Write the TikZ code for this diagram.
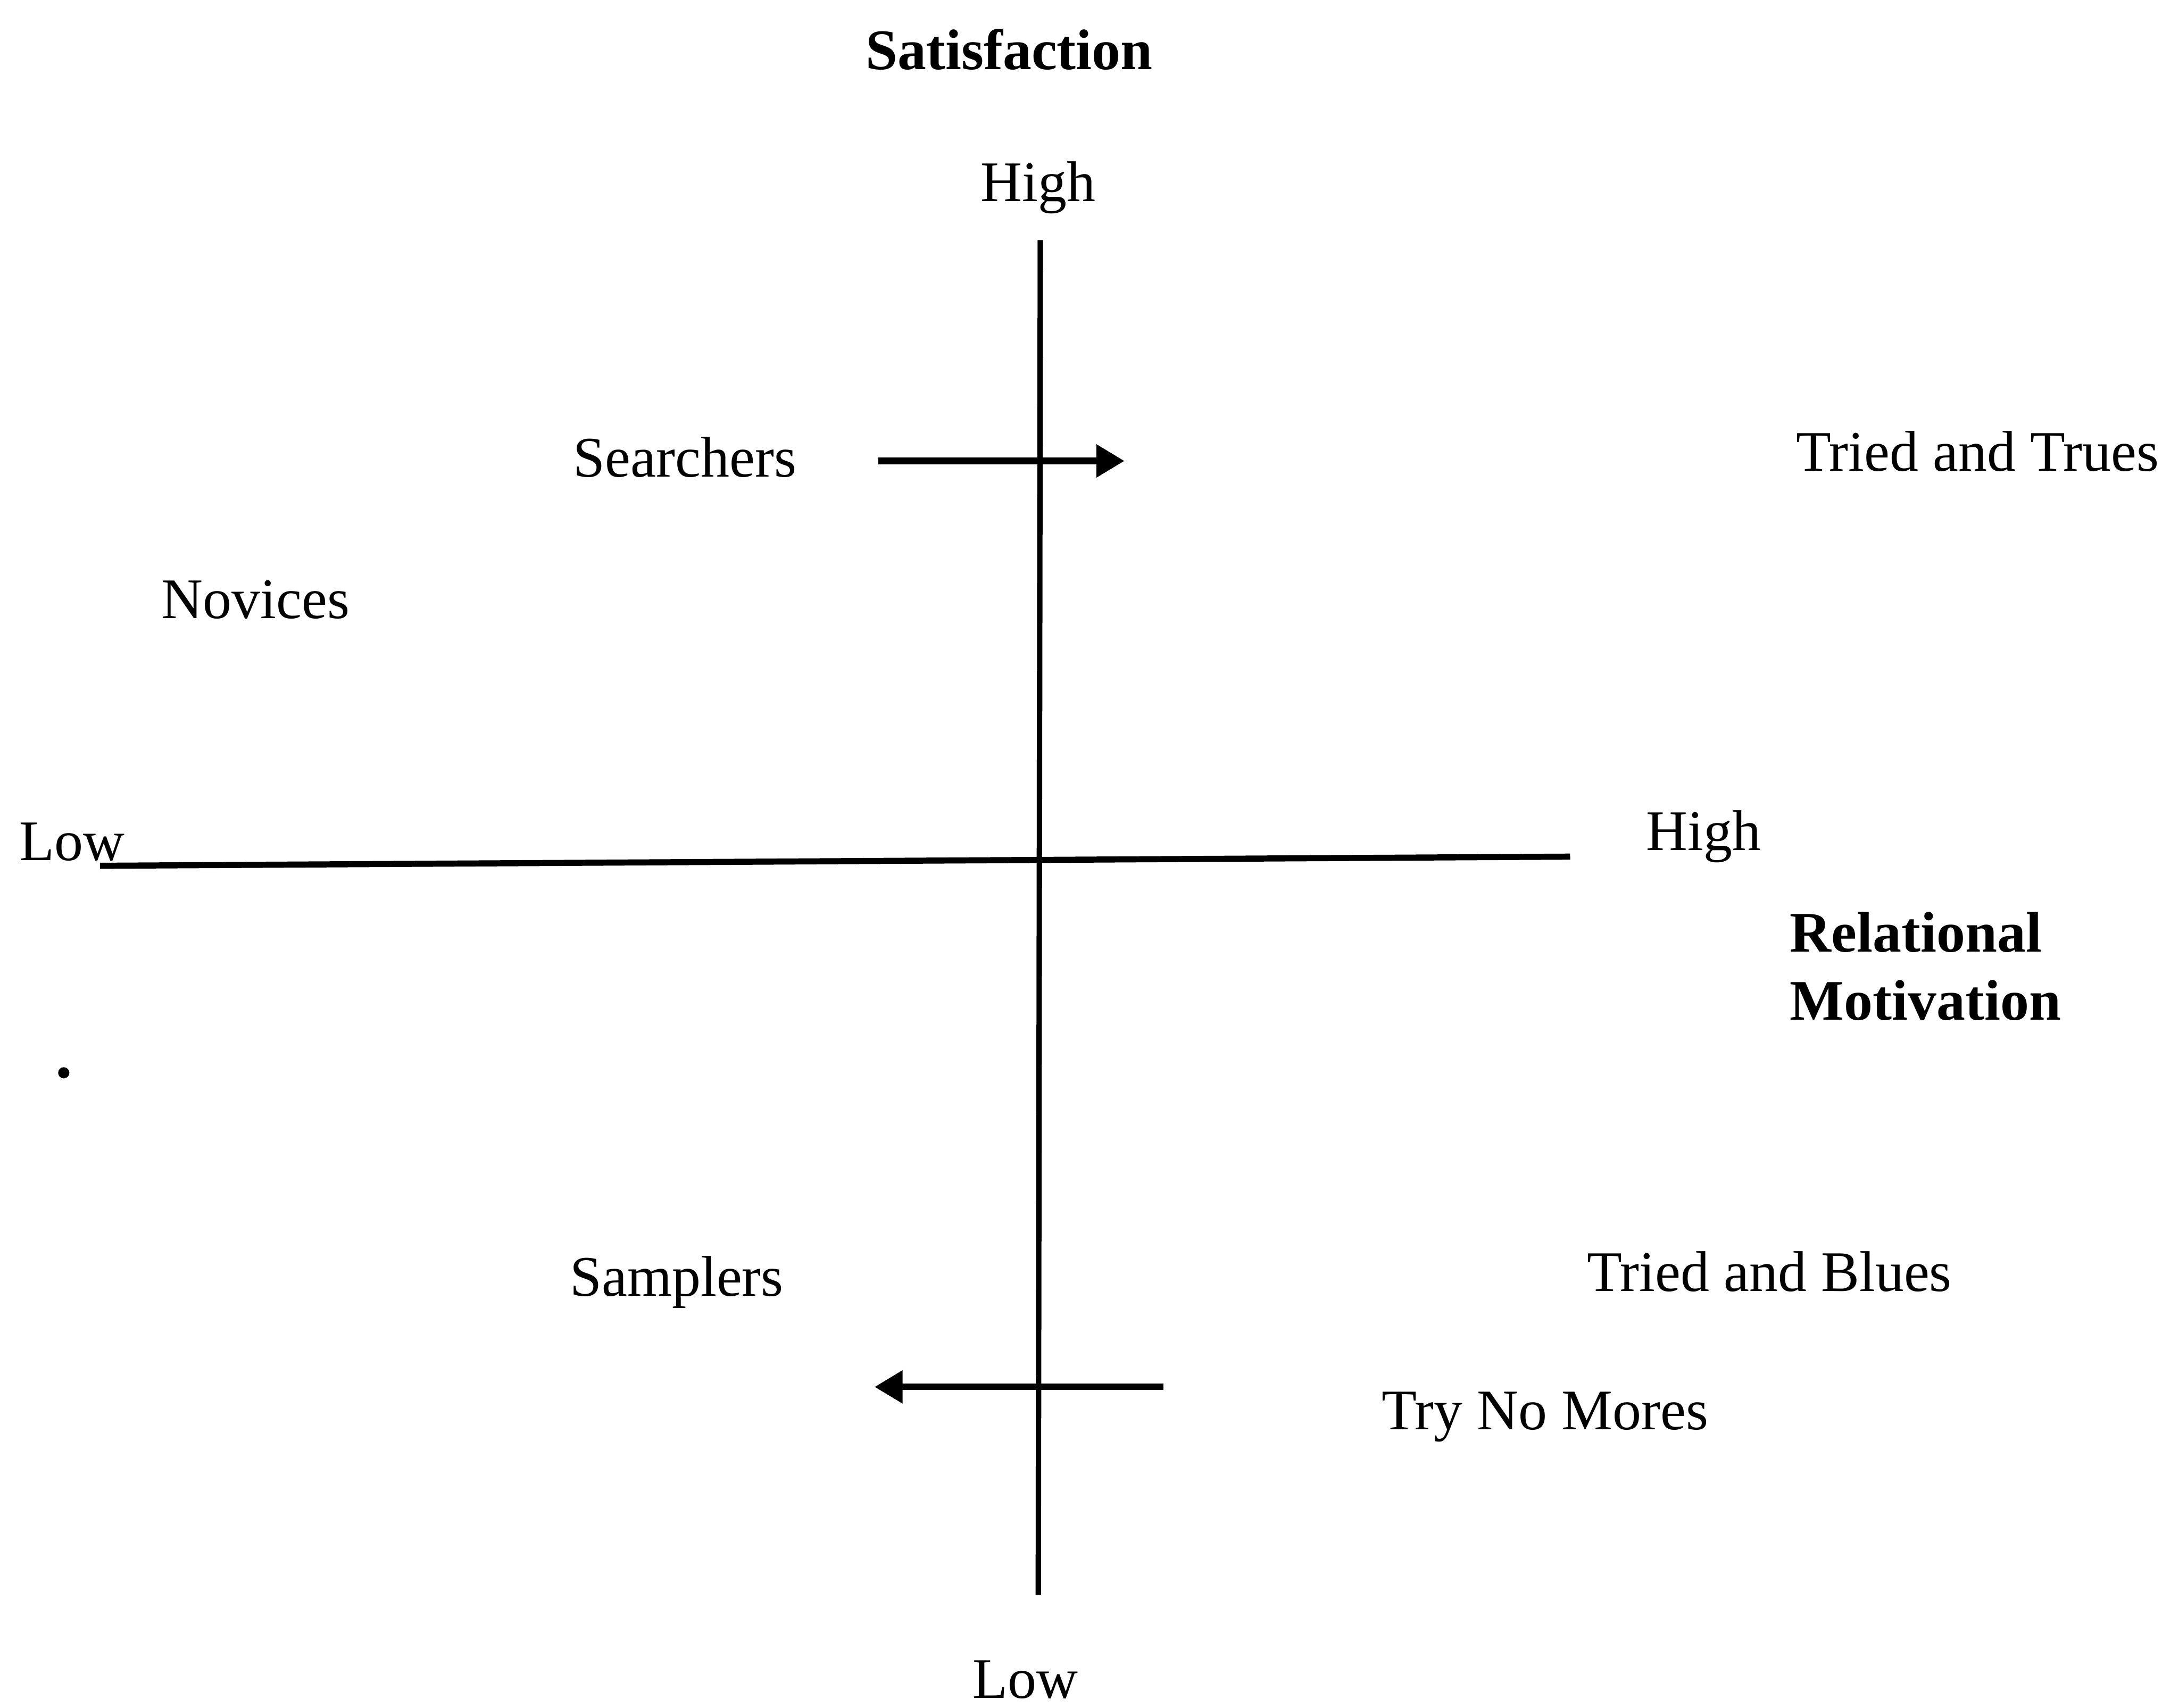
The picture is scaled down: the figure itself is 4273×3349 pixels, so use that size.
\documentclass[tikz,border=0pt]{standalone}
\usepackage{fontspec}
\setmainfont{Liberation Serif}
\usetikzlibrary{arrows.meta}
\begin{document}
\begin{tikzpicture}[x=0.01cm, y=-0.01cm,
  lbl/.style={inner sep=0pt, outer sep=0pt, anchor=base, font=\fontsize{32}{38}\selectfont},
  ttl/.style={lbl, font=\fontsize{32}{38}\selectfont\bfseries},
  axisline/.style={line width=3pt, line cap=butt},
  moveline/.style={line width=3.6pt, -{Triangle[length=0.55cm, width=0.62cm]}}]
  \useasboundingbox (0,0) rectangle (4273,3349);

  % axes
  \coordinate (vtop) at (2040,471);
  \coordinate (vbot) at (2036,3128);
  \coordinate (hleft) at (196,1698);
  \coordinate (hright) at (3079,1680);
  \draw[axisline] (vtop) -- (vbot);
  \draw[axisline, line width=3.4pt] (hleft) -- (hright);

  % axis labels
  \node[ttl] (sat) at (1979,136) {Satisfaction};
  \node[lbl] (shigh) at (2036,395) {High};
  \node[lbl] (slow) at (2011,3330) {Low};
  \node[lbl, anchor=base west] (rlow) at (38,1687) {Low};
  \node[lbl] (rhigh) at (3341,1668) {High};
  \node[ttl, anchor=base west] (rel) at (3510,1867) {Relational};
  \node[ttl, anchor=base west] (mot) at (3510,2000) {Motivation};

  % segments
  \node[lbl] (searchers) at (1343,935) {Searchers};
  \node[lbl] (tat) at (3878,924) {Tried and Trues};
  \node[lbl] (novices) at (501,1213) {Novices};
  \node[lbl] (samplers) at (1327,2542) {Samplers};
  \node[lbl] (tab) at (3470,2532) {Tried and Blues};
  \node[lbl] (tnm) at (3030,2804) {Try No Mores};

  % movement arrows
  \coordinate (a1s) at (1722,904);
  \coordinate (a1e) at (2205,904);
  \coordinate (a2s) at (2281,2720);
  \coordinate (a2e) at (1715,2720);
  \draw[moveline] (a1s) -- (a1e);
  \draw[moveline] (a2s) -- (a2e);

  % stray dot
  \fill (125,2104) circle (0.11cm);
\end{tikzpicture}
\end{document}
